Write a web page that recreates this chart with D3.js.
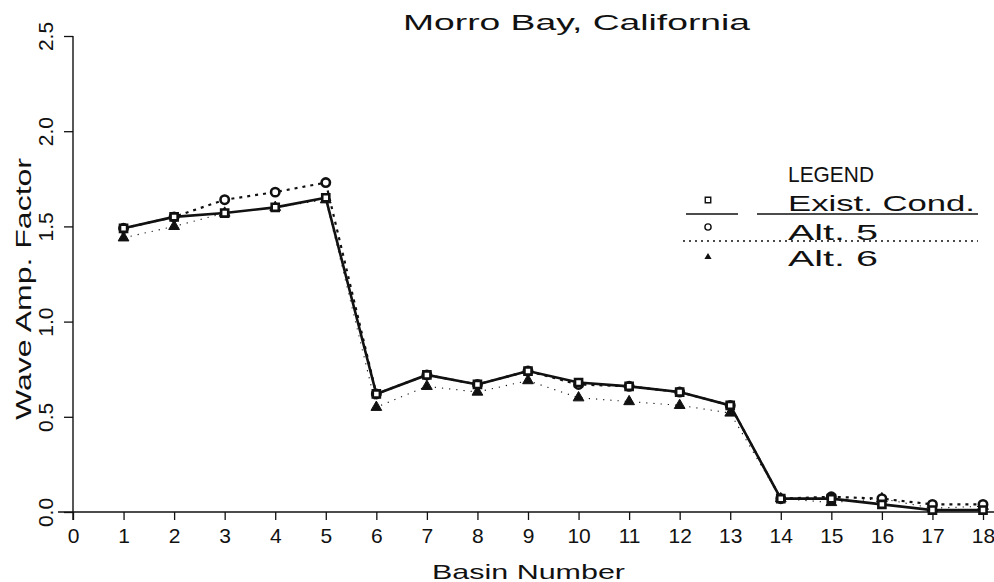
<!DOCTYPE html>
<html>
<head>
<meta charset="utf-8">
<script src="https://cdn.jsdelivr.net/npm/d3@7"></script>
<style>
  body { margin: 0; background: #fff; }
  text { font-family: "Liberation Sans", Arial, sans-serif; fill: #111; }
</style>
</head>
<body>
<script>
const basins = [1, 2, 3, 4, 5, 6, 7, 8, 9, 10, 11, 12, 13, 14, 15, 16, 17, 18];
const existCond = [1.49, 1.55, 1.57, 1.60, 1.65, 0.62, 0.72, 0.67, 0.74, 0.68, 0.66, 0.63, 0.56, 0.07, 0.07, 0.04, 0.01, 0.01];
const alt5 = [1.49, 1.55, 1.64, 1.68, 1.73, 0.62, 0.72, 0.67, 0.74, 0.67, 0.66, 0.63, 0.56, 0.07, 0.08, 0.07, 0.04, 0.04];
const alt6 = [1.44, 1.50, 1.57, 1.60, 1.64, 0.55, 0.66, 0.63, 0.69, 0.60, 0.58, 0.56, 0.52, 0.07, 0.05, 0.07, 0.02, 0.03];
const xTicks = d3.range(0, 19);
const yTicks = [0, 0.5, 1.0, 1.5, 2.0, 2.5];

const width = 994;
const height = 582;

const x = d3.scaleLinear().domain([0, 18]).range([73, 983]);
const y = d3.scaleLinear().domain([0, 2.5]).range([512, 36]);

const svg = d3.select("body").append("svg")
  .attr("width", width)
  .attr("height", height);

// axes
const xAxis = d3.axisBottom(x).tickValues(xTicks).tickSize(8).tickFormat(d3.format("d"));
const gx = svg.append("g").attr("transform", `translate(0,${y(0)})`).call(xAxis);
gx.select(".domain").remove();
gx.append("line").attr("x1", 58).attr("x2", 994).attr("stroke", "#111").attr("stroke-width", 1.6);
gx.selectAll(".tick line").attr("stroke", "#111").attr("stroke-width", 1.3);
gx.selectAll(".tick text")
  .attr("y", 16).attr("dy", "0.71em")
  .style("font-size", "21px")
  .style("font-family", "Liberation Sans, Arial, sans-serif")
  .attr("fill", "#111");

const yAxis = d3.axisLeft(y).tickValues(yTicks).tickSize(9).tickFormat(d3.format(".1f"));
const gy = svg.append("g").attr("transform", `translate(${x(0)},0)`).call(yAxis);
gy.select(".domain").remove();
gy.append("line").attr("y1", y(2.5)).attr("y2", 520).attr("stroke", "#111").attr("stroke-width", 1.4);
gy.selectAll(".tick line").attr("stroke", "#111").attr("stroke-width", 1.3);
gy.selectAll(".tick text")
  .attr("x", 0).attr("dy", 0)
  .attr("text-anchor", "middle")
  .attr("transform", "translate(-20,0) rotate(-90)")
  .style("font-size", "21px")
  .style("font-family", "Liberation Sans, Arial, sans-serif")
  .attr("fill", "#111");

// titles
svg.append("text")
  .attr("x", 403).attr("y", 30)
  .attr("textLength", 347).attr("lengthAdjust", "spacingAndGlyphs")
  .style("font-size", "22px")
  .text("Morro Bay, California");

svg.append("text")
  .attr("x", 432).attr("y", 579)
  .attr("textLength", 193).attr("lengthAdjust", "spacingAndGlyphs")
  .style("font-size", "21px")
  .text("Basin Number");

svg.append("text")
  .attr("transform", "translate(31,420) rotate(-90)")
  .attr("textLength", 262).attr("lengthAdjust", "spacingAndGlyphs")
  .style("font-size", "22px")
  .text("Wave Amp. Factor");

// series
const series = [
  { name: "Exist. Cond.", values: existCond, dash: null, width: 2.6, marker: "square" },
  { name: "Alt. 5", values: alt5, dash: "3,5", width: 2.2, marker: "circle" },
  { name: "Alt. 6", values: alt6, dash: "1.2,6", width: 1.1, marker: "triangle" }
];

const line = d3.line()
  .x((d, i) => x(basins[i]))
  .y(d => y(d));

// draw lower-priority series first
[series[2], series[1], series[0]].forEach(s => {
  svg.append("path")
    .attr("d", line(s.values))
    .attr("fill", "none")
    .attr("stroke", "#111")
    .attr("stroke-width", s.width)
    .attr("stroke-dasharray", s.dash);
});

function drawMarker(g, type, cx, cy) {
  if (type === "square") {
    g.append("path")
      .attr("d", d3.symbol(d3.symbolSquare, 50)())
      .attr("transform", `translate(${cx},${cy})`)
      .attr("fill", "#fff").attr("stroke", "#111").attr("stroke-width", 2.6);
  } else if (type === "circle") {
    g.append("path")
      .attr("d", d3.symbol(d3.symbolCircle, 55)())
      .attr("transform", `translate(${cx},${cy})`)
      .attr("fill", "#fff").attr("stroke", "#111").attr("stroke-width", 2.6);
  } else {
    g.append("path")
      .attr("d", d3.symbol(d3.symbolTriangle, 50)())
      .attr("transform", `translate(${cx},${cy})`)
      .attr("fill", "#111").attr("stroke", "#111").attr("stroke-width", 1);
  }
}

const markers = svg.append("g");
[series[2], series[1], series[0]].forEach(s => {
  s.values.forEach((v, i) => drawMarker(markers, s.marker, x(basins[i]), y(v)));
});

// legend
const lg = svg.append("g");
lg.append("text").attr("x", 788).attr("y", 182)
  .attr("textLength", 86).attr("lengthAdjust", "spacingAndGlyphs")
  .style("font-size", "22px").text("LEGEND");

const legendRows = [
  { s: series[0], ty: 211, my: 200, len: 187 },
  { s: series[1], ty: 240, my: 227, len: 90 },
  { s: series[2], ty: 266, my: 257, len: 90 }
];
legendRows.forEach(r => {
  lg.append("text").attr("x", 788).attr("y", r.ty)
    .attr("textLength", r.len).attr("lengthAdjust", "spacingAndGlyphs")
    .style("font-size", "22px").text(r.s.name);
  const g = lg.append("g");
  if (r.s.marker === "triangle") {
    g.append("path").attr("d", d3.symbol(d3.symbolTriangle, 22)())
      .attr("transform", `translate(708,${r.my})`).attr("fill", "#111");
  } else {
    g.append("path").attr("d", d3.symbol(r.s.marker === "square" ? d3.symbolSquare : d3.symbolCircle, 30)())
      .attr("transform", `translate(708,${r.my})`)
      .attr("fill", "none").attr("stroke", "#111").attr("stroke-width", 1.4);
  }
});
lg.append("line").attr("x1", 686).attr("x2", 738).attr("y1", 214).attr("y2", 214)
  .attr("stroke", "#111").attr("stroke-width", 1.6);
lg.append("line").attr("x1", 757).attr("x2", 978).attr("y1", 214).attr("y2", 214)
  .attr("stroke", "#111").attr("stroke-width", 1.6);
lg.append("line").attr("x1", 683).attr("x2", 978).attr("y1", 241).attr("y2", 241)
  .attr("stroke", "#111").attr("stroke-width", 1.4).attr("stroke-dasharray", "2,4");
</script>
</body>
</html>
